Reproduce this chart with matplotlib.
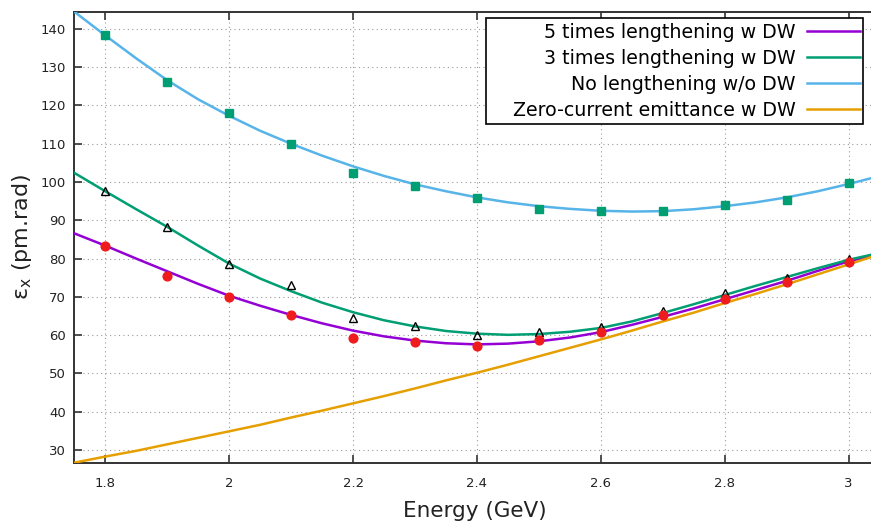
import matplotlib
matplotlib.use("Agg")
import matplotlib.pyplot as plt
from matplotlib.patches import Rectangle

# simulated points
energy = [1.8, 1.9, 2.0, 2.1, 2.2, 2.3, 2.4, 2.5, 2.6, 2.7, 2.8, 2.9, 3.0]
pts_5x = [83.3, 75.5, 70.0, 65.3, 59.2, 58.1, 57.2, 58.7, 60.9, 65.4, 69.4, 74.0, 79.1]
pts_3x = [97.7, 88.3, 78.5, 73.0, 64.6, 62.5, 60.0, 60.8, 62.2, 66.4, 71.1, 74.9, 79.9]
pts_none = [138.3, 126.1, 118.0, 110.0, 102.3, 98.9, 95.8, 92.9, 92.5, 92.4, 94.1, 95.3, 99.7]

# fitted curves
curve_e = [1.75, 1.8, 1.85, 1.9, 1.95, 2.0, 2.05, 2.1, 2.15, 2.2, 2.25, 2.3, 2.35,
           2.4, 2.45, 2.5, 2.55, 2.6, 2.65, 2.7, 2.75, 2.8, 2.85, 2.9, 2.95, 3.0, 3.036]
fit_5x = [86.6, 83.4, 80.0, 76.7, 73.4, 70.3, 67.7, 65.3, 63.1, 61.2, 59.7, 58.6, 57.9,
          57.6, 57.8, 58.4, 59.4, 60.8, 62.7, 64.8, 67.0, 69.4, 71.8, 74.2, 76.8, 79.3, 80.6]
fit_3x = [102.4, 97.6, 92.9, 88.3, 83.4, 78.7, 74.8, 71.5, 68.5, 66.0, 63.9, 62.3, 61.1,
          60.4, 60.1, 60.3, 60.9, 61.9, 63.6, 65.8, 68.1, 70.5, 72.9, 75.2, 77.5, 79.7, 81.0]
fit_none = [144.5, 138.3, 132.3, 126.6, 121.6, 117.3, 113.4, 110.0, 106.9, 104.1, 101.6, 99.4, 97.6,
            96.0, 94.7, 93.7, 93.0, 92.5, 92.3, 92.4, 92.9, 93.7, 94.7, 96.0, 97.6, 99.5, 101.0]
zero_current = [26.7, 28.3, 29.8, 31.5, 33.2, 34.9, 36.6, 38.5, 40.3, 42.2, 44.1, 46.1, 48.2,
                50.2, 52.3, 54.5, 56.7, 58.9, 61.2, 63.6, 65.9, 68.4, 70.8, 73.3, 75.9, 78.5, 80.4]

labels = ["5 times lengthening w DW", "3 times lengthening w DW",
          "No lengthening w/o DW", "Zero-current emittance w DW"]
xticks = [1.8, 2.0, 2.2, 2.4, 2.6, 2.8, 3.0]
xtick_labels = ["1.8", "2", "2.2", "2.4", "2.6", "2.8", "3"]
yticks = [30, 40, 50, 60, 70, 80, 90, 100, 110, 120, 130, 140]

W, H = 871, 525
fig = plt.figure(figsize=(W / 100, H / 100), dpi=100)
ax = fig.add_axes([74.3 / W, 1 - 462.7 / H, (W - 74.3) / W, (462.7 - 11.7) / H])

ax.plot(curve_e, fit_5x, color="#9400d3", lw=1.8, label=labels[0], zorder=3)
ax.plot(curve_e, fit_3x, color="#009e73", lw=1.8, label=labels[1], zorder=3)
ax.plot(curve_e, fit_none, color="#56b4e9", lw=1.8, label=labels[2], zorder=3)
ax.plot(curve_e, zero_current, color="#e69f00", lw=1.8, label=labels[3], zorder=3)

ax.plot(energy, pts_none, ls="none", marker="s", ms=6, color="#009e73",
        mec="#009e73", zorder=4)
ax.plot(energy, pts_3x, ls="none", marker="^", ms=6, mfc="none", mec="black",
        mew=1.0, zorder=4)
ax.plot(energy, pts_5x, ls="none", marker="o", ms=6.3, color="#ee1c1c", zorder=5)

ax.set_xlim(1.75, 3.036)
ax.set_ylim(26.7, 144.5)
ax.set_xticks(xticks)
ax.set_xticklabels(xtick_labels)
ax.set_yticks(yticks)
ax.tick_params(direction="in", length=6, width=1.2, colors="#333333",
               labelcolor="#222222", labelsize=9.5, top=True, right=False)
ax.tick_params(axis="x", pad=10)
ax.tick_params(axis="y", pad=6)
ax.grid(True, color="#999999", lw=0.8, ls=(0, (1, 3)))

for side in ["left", "bottom", "top"]:
    ax.spines[side].set_color("#333333")
    ax.spines[side].set_linewidth(1.4)
ax.spines["right"].set_visible(False)

ax.set_xlabel("Energy (GeV)", fontsize=15.5, color="#222222")
ax.xaxis.label.set_va("center")
ax.xaxis.set_label_coords(0.503, -0.107)
ax.set_ylabel(r"$\mathregular{ε_x}$ (pm.rad)", fontsize=16, color="#222222")
ax.yaxis.label.set_va("center")
ax.yaxis.set_label_coords(-0.066, 0.5)

# gnuplot-style key box: wide left margin, text right-aligned
key_box = Rectangle((485.7 / W, 1 - 124.0 / H), (863.3 - 485.7) / W,
                    (124.0 - 18.3) / H, transform=fig.transFigure, clip_on=False,
                    fc="white", ec="black", lw=1.2, zorder=6)
ax.add_patch(key_box)
leg = ax.legend(loc="upper right", bbox_to_anchor=(863.0 / W, 1 - 20.0 / H),
                bbox_transform=fig.transFigure, frameon=False, markerfirst=False,
                fontsize=13.7, handlelength=2.8, handletextpad=0.6,
                labelspacing=0.37, borderpad=0.15, borderaxespad=0)
leg.set_zorder(7)

fig.savefig("out.png", dpi=100)
